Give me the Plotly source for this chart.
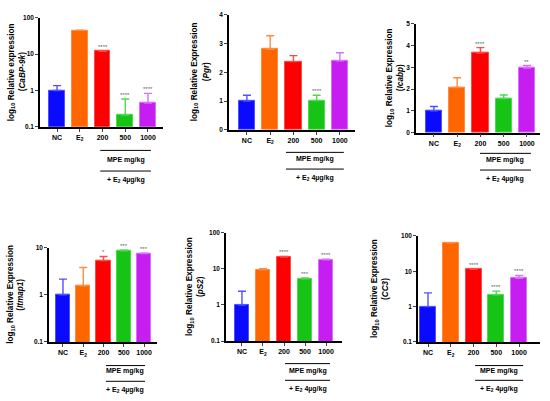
import math
import plotly.graph_objects as go

categories = ["NC", "E<sub>2</sub>", "200", "500", "1000"]
bar_colors = ["#0a0aff", "#ff6600", "#ff0000", "#16c416", "#c61ef0"]
edge_colors = ["#5050ff", "#ff8c40", "#ff4a4a", "#50d850", "#d870ff"]

cabp9k_mean = [1.0, 45, 12, 0.21, 0.45]
cabp9k_err = [0.36, 0.8, 0.4, 0.37, 0.38]
cabp9k_sig = ["", "", "****", "****", "****"]

pgr_mean = [1.0, 2.8, 2.37, 1.02, 2.4]
pgr_err = [0.2, 0.47, 0.21, 0.18, 0.28]
pgr_sig = ["", "", "", "****", ""]

icabp_mean = [1.0, 2.07, 3.65, 1.57, 2.97]
icabp_err = [0.2, 0.45, 0.25, 0.16, 0.11]
icabp_sig = ["", "", "****", "", "**"]

itmap1_mean = [1.0, 1.55, 5.3, 8.6, 7.5]
itmap1_err = [1.15, 2.25, 1.2, 0.2, 0.15]
itmap1_sig = ["", "", "*", "***", "***"]

ps2_mean = [1.0, 9.5, 21.5, 5.3, 18.0]
ps2_err = [1.4, 0.6, 0.8, 0.3, 0.6]
ps2_sig = ["", "", "****", "***", "****"]

cc3_mean = [1.0, 63, 11.3, 2.15, 6.3]
cc3_err = [1.45, 1.5, 0.5, 0.6, 1.3]
cc3_sig = ["", "", "****", "****", "****"]

W, H = 550, 401
FONT = "Liberation Sans"

panels = [
    dict(mean=cabp9k_mean, err=cabp9k_err, sig=cabp9k_sig, log=True,
         ttl1="log<sub>10</sub> Relative expression", ttl2="(<i>CaBP-9k</i>)",
         box=(40, 163, 14, 125), xr=[-0.75, 4.66], yr=[-1, 2],
         tv=[0.1, 1, 10, 100], tt=["0.1", "1", "10", "100"],
         tx=(12, 22), br=(1.9, 4.13), by=(149, 170), ty=(159, 179)),
    dict(mean=pgr_mean, err=pgr_err, sig=pgr_sig, log=False,
         ttl1="log<sub>10</sub> Relative Expression", ttl2="(<i>Pgr</i>)",
         box=(229, 355, 11, 128), xr=[-0.77, 4.65], yr=[0, 4],
         tv=[0, 1, 2, 3, 4], tt=["0", "1", "2", "3", "4"],
         tx=(195, 206), br=(1.68, 4.17), by=(151, 168), ty=(158, 177)),
    dict(mean=icabp_mean, err=icabp_err, sig=icabp_sig, log=False,
         ttl1="log<sub>10</sub> Relative Expression", ttl2="(<i>Icabp</i>)",
         box=(416, 540, 20, 131), xr=[-0.77, 4.56], yr=[0, 5],
         tv=[0, 1, 2, 3, 4, 5], tt=["0", "1", "2", "3", "4", "5"],
         tx=(390, 400), br=(1.98, 4.17), by=(152, 169), ty=(159, 178)),
    dict(mean=itmap1_mean, err=itmap1_err, sig=itmap1_sig, log=True,
         ttl1="log<sub>10</sub> Relative Expression", ttl2="(<i>Itmap1</i>)",
         box=(49, 157, 248, 344), xr=[-0.69, 4.64], yr=[-1, 1],
         tv=[0.1, 1, 10], tt=["0.1", "1", "10"],
         tx=(11, 21), br=(2.12, 4.05), by=(368, 384), ty=(374, 393)),
    dict(mean=ps2_mean, err=ps2_err, sig=ps2_sig, log=True,
         ttl1="log<sub>10</sub> Relative Expression", ttl2="(<i>pS2</i>)",
         box=(226, 342, 233, 343), xr=[-0.76, 4.76], yr=[-1, 2],
         tv=[0.1, 1, 10, 100], tt=["0.1", "1", "10", "100"],
         tx=(190, 201), br=(2.05, 4.19), by=(366, 383), ty=(374, 392)),
    dict(mean=cc3_mean, err=cc3_err, sig=cc3_sig, log=True,
         ttl1="log<sub>10</sub> Relative Expression", ttl2="(<i>CC3</i>)",
         box=(418, 540, 236, 344), xr=[-0.44, 4.92], yr=[-1, 2],
         tv=[0.1, 1, 10, 100], tt=["0.1", "1", "10", "100"],
         tx=(375, 386), br=(2.07, 4.18), by=(368, 383), ty=(374, 392)),
]

fig = go.Figure()
annotations = []
shapes = []
xpos = list(range(len(categories)))

for k, p in enumerate(panels, start=1):
    xa = "x" if k == 1 else f"x{k}"
    ya = "y" if k == 1 else f"y{k}"
    for i in xpos:
        fig.add_trace(go.Bar(
            x=[i], y=[p["mean"][i]], width=0.7,
            marker=dict(color=bar_colors[i], line=dict(color=edge_colors[i], width=1)),
            error_y=dict(type="data", symmetric=False, array=[p["err"][i]], arrayminus=[0],
                         color=edge_colors[i], thickness=1.4, width=4),
            xaxis=xa, yaxis=ya, showlegend=False, hoverinfo="skip"))
        if p["sig"][i]:
            top = p["mean"][i] + p["err"][i]
            annotations.append(dict(
                x=i, y=math.log10(top) if p["log"] else top, xref=xa, yref=ya,
                text=p["sig"][i], showarrow=False, yanchor="bottom", yshift=-1,
                font=dict(family=FONT, size=6, color="#666666")))
    x0, x1, y0, y1 = p["box"]
    axkey = "xaxis" if k == 1 else f"xaxis{k}"
    aykey = "yaxis" if k == 1 else f"yaxis{k}"
    fig.update_layout(**{
        axkey: dict(domain=[x0 / W, x1 / W], anchor=ya, range=p["xr"],
                    tickvals=xpos, ticktext=categories, ticks="outside", ticklen=3,
                    tickwidth=1, showline=True, linecolor="black", linewidth=1.5,
                    showgrid=False, zeroline=False, fixedrange=True,
                    tickfont=dict(family=FONT, size=7, color="black", weight="bold")),
        aykey: dict(domain=[1 - y1 / H, 1 - y0 / H], anchor=xa,
                    type="log" if p["log"] else "linear", range=p["yr"],
                    tickvals=p["tv"], ticktext=p["tt"], ticks="outside", ticklen=3,
                    tickwidth=1, showline=True, linecolor="black", linewidth=1.5,
                    showgrid=False, zeroline=False, fixedrange=True,
                    tickfont=dict(family=FONT, size=6.5, color="black", weight="bold")),
    })
    ymid = 1 - (y0 + y1) / 2 / H
    for tx, txt in zip(p["tx"], [p["ttl1"], p["ttl2"]]):
        annotations.append(dict(x=tx / W, y=ymid, xref="paper", yref="paper",
                                text=txt, textangle=-90, showarrow=False,
                                xanchor="center", yanchor="middle",
                                font=dict(family=FONT, size=8.2, color="black", weight="bold")))
    bx0, bx1 = p["br"]
    for lyy in p["by"]:
        shapes.append(dict(type="line", xref=xa, yref="paper", x0=bx0, x1=bx1,
                           y0=1 - lyy / H, y1=1 - lyy / H,
                           line=dict(color="black", width=1)))
    cx = (bx0 + bx1) / 2
    annotations.append(dict(x=cx, y=1 - p["ty"][0] / H, xref=xa, yref="paper",
                            text="MPE mg/kg", showarrow=False, yanchor="middle",
                            font=dict(family=FONT, size=7, color="black", weight="bold")))
    annotations.append(dict(x=cx, y=1 - p["ty"][1] / H, xref=xa, yref="paper",
                            text="+ E<sub>2</sub> 4µg/kg", showarrow=False, yanchor="middle",
                            font=dict(family=FONT, size=7, color="black", weight="bold")))

fig.update_layout(width=W, height=H, margin=dict(l=0, r=0, t=0, b=0),
                  paper_bgcolor="white", plot_bgcolor="white",
                  annotations=annotations, shapes=shapes, bargap=0)
fig.write_html("out.html", config={"displayModeBar": False},
               post_script="document.body.style.margin='0';document.body.style.padding='0';")
